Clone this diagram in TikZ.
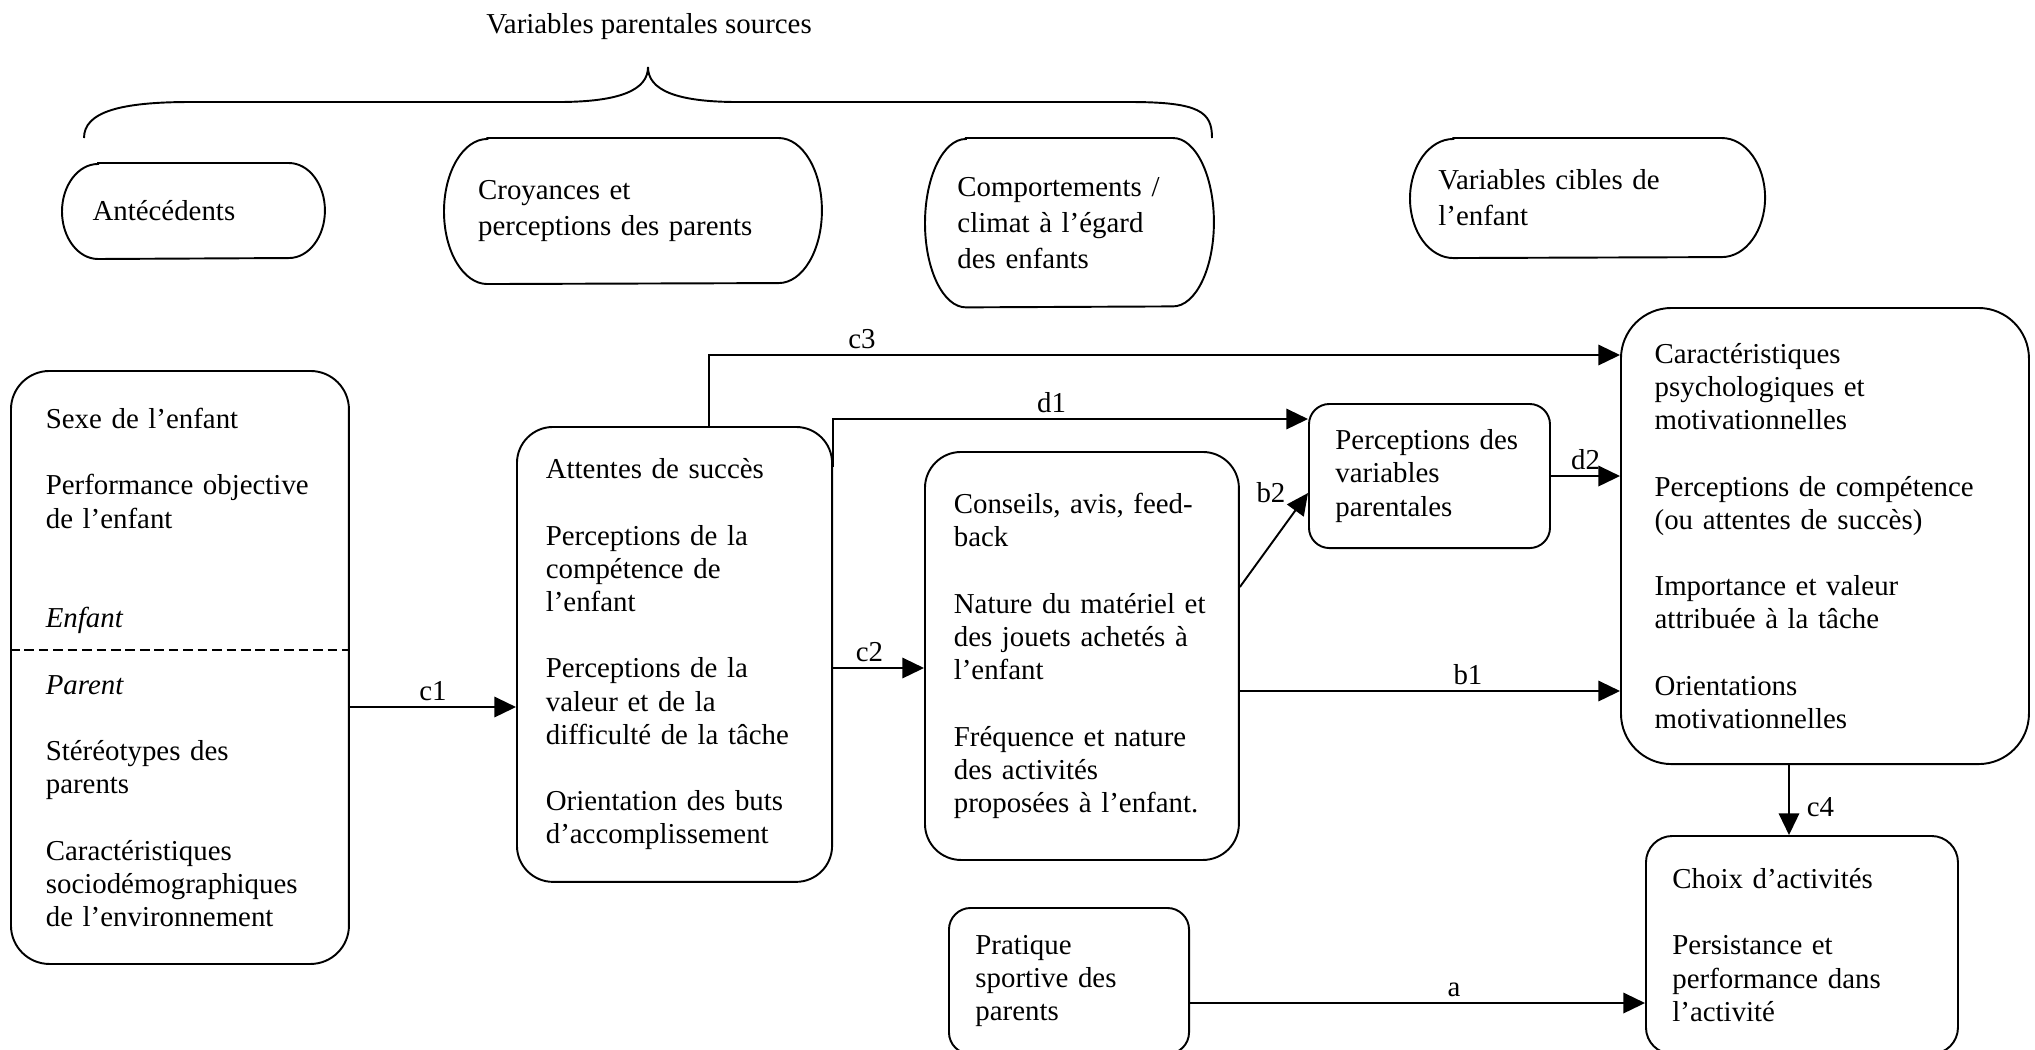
\documentclass[tikz,border=0pt]{standalone}
\usepackage{fontspec}
\setmainfont{Liberation Serif}
\usetikzlibrary{arrows.meta}

\begin{document}
\begin{tikzpicture}[
x=0.4157pt, y=-0.4157pt,
every node/.style={font=\fontsize{12}{13.8}\selectfont},
heading/.style={inner sep=0pt},
oval/.style={anchor=north west, align=left, inner xsep=12.5pt, inner ysep=0pt, font=\fontsize{12}{15}\selectfont},
block/.style={draw=black, line width=0.8pt, anchor=north west, align=left, inner xsep=12pt, inner ysep=0pt},
link/.style={line width=0.8pt, -{Triangle[length=9pt, width=8.5pt]}},
arclabel/.style={inner sep=2pt},
]
\useasboundingbox (0,0) rectangle (2035,1049);

% sources (parents) and target (child)
\node[heading] (head) at (649,27) {Variables parentales sources};
\node[oval, minimum width=108.9pt, minimum height=39.5pt, text width=83.9pt] (ante) at (62,163) {Antécédents};
\node[oval, inner xsep=14pt, minimum width=156.7pt, minimum height=60.3pt, text width=128.7pt] (croy) at (444,138) {Croyances et\\ perceptions des parents};
\node[oval, inner xsep=13.3pt, minimum width=119.7pt, minimum height=70pt, text width=93.1pt] (comp) at (925,138) {Comportements /\\ climat à l'égard\\ des enfants};
\node[oval, inner xsep=11.6pt, minimum width=147.2pt, minimum height=49.5pt, text width=124pt] (cible) at (1410,138) {Variables cibles de\\ l'enfant};
\foreach \nm/\rx/\ry in {ante/15pt/19.75pt, croy/18pt/30.15pt, comp/17pt/35pt, cible/18pt/24.75pt}
  \draw[line width=0.8pt] ([xshift=\rx]\nm.north west) -- ([xshift=-\rx]\nm.north east)
    arc[start angle=90, end angle=-90, x radius=\rx, y radius=\ry]
    -- ([xshift=\rx]\nm.south west)
    arc[start angle=270, end angle=90, x radius=\rx, y radius=\ry] -- cycle;
\draw[line width=0.8pt] (84,138) .. controls (84,112) and (120,102) .. (190,102) -- (558,102)
  .. controls (620,102) and (648,90) .. (648,67) .. controls (648,90) and (676,102) .. (738,102)
  -- (1130,102) .. controls (1200,102) and (1212,112) .. (1212,138);

% boxes
\node[block, inner xsep=14.5pt, rounded corners=16pt, minimum width=140.5pt, minimum height=246.5pt, text width=111.5pt] (ctx) at (10,370) {Sexe de l'enfant\\[\baselineskip]
  Performance objective\\ de l'enfant\\[2\baselineskip]
  \textit{Enfant}\\[\baselineskip]
  \textit{Parent}\\[\baselineskip]
  Stéréotypes des\\ parents\\[\baselineskip]
  Caractéristiques\\ sociodémographiques\\ de l'environnement};
\draw[line width=0.8pt, dash pattern=on 4pt off 2pt] (ctx.west |- 0,650) -- (ctx.east |- 0,650);
\node[block, rounded corners=15pt, minimum width=131pt, minimum height=189.1pt, text width=107pt] (att) at (516,426) {Attentes de succès\\[\baselineskip]
  Perceptions de la\\ compétence de\\ l'enfant\\[\baselineskip]
  Perceptions de la\\ valeur et de la\\ difficulté de la tâche\\[\baselineskip]
  Orientation des buts\\ d'accomplissement};
\node[block, rounded corners=15pt, minimum width=130.5pt, minimum height=169.6pt, text width=106.5pt] (cons) at (924,451) {Conseils, avis, feed-\\ back\\[\baselineskip]
  Nature du matériel et\\ des jouets achetés à\\ l'enfant\\[\baselineskip]
  Fréquence et nature\\ des activités\\ proposées à l'enfant.};
\node[block, inner xsep=11pt, rounded corners=8.5pt, minimum width=100.2pt, minimum height=59.9pt, text width=78.2pt] (par) at (1308,403) {Perceptions des\\ variables\\ parentales};
\node[block, inner xsep=14pt, rounded corners=21pt, minimum width=169.6pt, minimum height=189.6pt, text width=141.6pt] (res) at (1620,307) {Caractéristiques\\ psychologiques et\\ motivationnelles\\[\baselineskip]
  Perceptions de compétence\\ (ou attentes de succès)\\[\baselineskip]
  Importance et valeur\\ attribuée à la tâche\\[\baselineskip]
  Orientations\\ motivationnelles};
\node[block, inner xsep=11pt, rounded corners=9pt, minimum width=99.8pt, minimum height=60.7pt, text width=77.8pt] (prat) at (948,907) {Pratique\\ sportive des\\ parents};
\node[block, inner xsep=11pt, rounded corners=11pt, minimum width=129.7pt, minimum height=90.6pt, text width=107.7pt] (choix) at (1645,835) {Choix d'activités\\[\baselineskip]
  Persistance et\\ performance dans\\ l'activité};

% paths
\draw[link] (ctx.east |- 0,707) -- node[arclabel, above] {c1} (att.west |- 0,707);
\draw[link] (att.east |- 0,668) -- node[arclabel, above, pos=0.4] {c2} (cons.west |- 0,668);
\draw[link] ([xshift=14.3pt]att.north) |- node[arclabel, above, pos=0.584] {c3} (res.west |- 0,355);
\draw[link] (att.east |- 0,467) |- node[arclabel, above, pos=0.73] {d1} (par.west |- 0,419);
\draw[link] (cons.east |- 0,587) -- node[arclabel, at end, left=7pt] {b2} (par.west |- 0,493);
\draw[link] (par.east) -- node[arclabel, above] {d2} (res.west |- par.east);
\draw[link] (cons.east |- 0,691) -- node[arclabel, above, pos=0.6] {b1} (res.west |- 0,691);
\draw[link] (res.south -| 1789,0) -- node[arclabel, right=5pt, pos=0.6] {c4} (choix.north -| 1789,0);
\draw[link] (prat.east |- 0,1003) -- node[arclabel, above, pos=0.58] {a} (choix.west |- 0,1003);
\end{tikzpicture}
\end{document}
